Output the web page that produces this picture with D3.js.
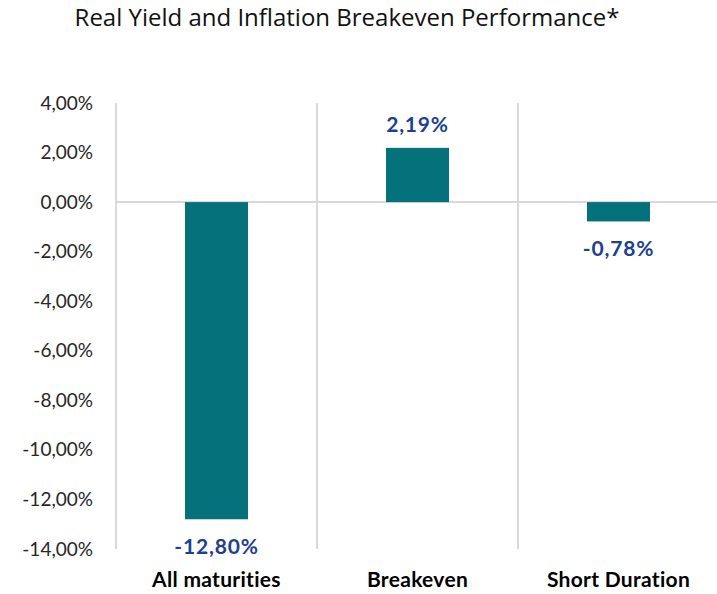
<!DOCTYPE html>
<html><head><meta charset="utf-8">
<script src="https://cdn.jsdelivr.net/npm/d3@7"></script>
<style>body{margin:0;background:#fff;} svg{display:block;}</style>
</head><body>
<script>
const categories = ["All maturities", "Breakeven", "Short Duration"];
const values = [-12.80, 2.19, -0.78];
const yTicks = [4, 2, 0, -2, -4, -6, -8, -10, -12, -14];
const title = "Real Yield and Inflation Breakeven Performance*";

const W = 717, H = 594;
const svg = d3.select("body").append("svg").attr("width", W).attr("height", H);
const fmt = v => d3.format(".2f")(v).replace("−", "-").replace(".", ",") + "%";

const x = d3.scaleBand().domain(categories).range([116, 719]).paddingInner(0).paddingOuter(0);
const y = d3.scaleLinear().domain([-14, 4]).range([549, 103]);

const t = svg.append("text").attr("x", 347).attr("y", 26).attr("text-anchor", "middle")
  .attr("font-family", "'Open Sans', Lato, sans-serif").attr("font-size", 20).attr("fill", "#111")
  .text(title);
// fit title to reference width by font size
const tw = t.node().getComputedTextLength();
t.attr("font-size", Math.min(24, 20 * 548 / tw));

// vertical gridlines (category separators)
const seps = [116, ...categories.slice(1).map(c => x(c)), 719];
svg.selectAll("line.v").data(seps).enter().append("line")
  .attr("x1", d => d).attr("x2", d => d).attr("y1", y(4)).attr("y2", y(-14))
  .attr("stroke", "#d9d9d9").attr("stroke-width", 2);

// zero line
svg.append("line").attr("x1", 116).attr("x2", 719).attr("y1", y(0)).attr("y2", y(0))
  .attr("stroke", "#d9d9d9").attr("stroke-width", 2);

// y axis labels
const yAxis = d3.axisLeft(y).tickValues(yTicks).tickFormat(fmt).tickSize(0).tickPadding(0);
const ga = svg.append("g").attr("transform", "translate(93,0)").call(yAxis);
ga.select(".domain").remove();
ga.selectAll("text").attr("font-family", "Lato, 'Open Sans', sans-serif").attr("font-size", 19).attr("fill", "#262626");

// bars
const bw = 63;
svg.selectAll("rect.bar").data(values).enter().append("rect")
  .attr("x", (d, i) => x(categories[i]) + x.bandwidth() / 2 - bw / 2)
  .attr("width", bw)
  .attr("y", d => y(Math.max(0, d)))
  .attr("height", d => Math.abs(y(d) - y(0)))
  .attr("fill", "#04717B");

// data labels
svg.selectAll("text.lbl").data(values).enter().append("text")
  .attr("x", (d, i) => x(categories[i]) + x.bandwidth() / 2)
  .attr("y", d => d >= 0 ? y(d) - 16 : y(d) + 35)
  .attr("text-anchor", "middle")
  .attr("font-family", "Lato, 'Open Sans', sans-serif").attr("font-weight", "bold").attr("font-size", 21)
  .attr("letter-spacing", 0.8)
  .attr("fill", "#203F8F")
  .text(d => fmt(d));

// category labels
svg.selectAll("text.cat").data(categories).enter().append("text")
  .attr("x", d => x(d) + x.bandwidth() / 2)
  .attr("y", 587)
  .attr("text-anchor", "middle")
  .attr("font-family", "Lato, 'Open Sans', sans-serif").attr("font-weight", "bold").attr("font-size", 21)
  .attr("letter-spacing", 0.3)
  .attr("fill", "#000")
  .text(d => d);
</script>
</body></html>
